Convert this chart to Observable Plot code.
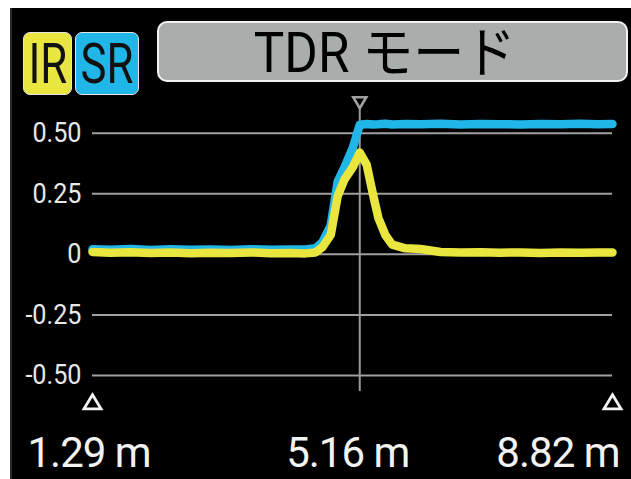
<!DOCTYPE html>
<html><head><meta charset="utf-8">
<script src="https://cdn.jsdelivr.net/npm/d3@7"></script>
<script src="https://cdn.jsdelivr.net/npm/@observablehq/plot@0.6"></script>
<style>
html,body{margin:0;padding:0;background:#fff;width:631px;height:479px;overflow:hidden}
#panel{position:absolute;left:10px;top:8px;width:621px;height:471px;background:#000;box-shadow:inset 2px 0 0 #2a2a2a}
#panel svg{position:absolute;left:0;top:0}
.badge{position:absolute;top:24px;height:63px;border:1.5px solid #e4e4e4;border-radius:7px;box-sizing:border-box;display:flex;align-items:center;justify-content:center;font-family:Roboto,sans-serif;font-size:56px;line-height:1;color:#111;overflow:hidden}
.badge span{display:inline-block;transform:scaleX(0.78)}
#title{position:absolute;left:147px;top:13px;width:471px;height:61px;background:#a9aeac;border:2.5px solid #f2f2f2;border-radius:10px;box-sizing:border-box;display:flex;align-items:center;justify-content:center;font-family:Roboto,"Noto Sans CJK JP",sans-serif;font-size:55px;line-height:1;color:#000}
#title span{display:inline-block;transform:translate(-8px,2px) scaleX(0.93);white-space:pre}
</style>
</head><body>
<div id="panel">
  <div class="badge" id="irBadge" style="left:13px;width:49px"><span></span></div>
  <div class="badge" id="srBadge" style="left:65px;width:64px"><span></span></div>
  <div id="title"><span></span></div>
</div>
<script>
// ---- data ----
const titleText = "TDR モード";
const seriesNames = ["IR", "SR"];
const seriesColors = ["#e8e63f", "#20b6e8"];
const distance = [1.29, 1.55, 1.84, 2.13, 2.42, 2.71, 3.00, 3.29, 3.58, 3.87, 4.16, 4.37, 4.52, 4.62, 4.74, 4.84, 4.94, 5.06, 5.16, 5.26, 5.35, 5.43, 5.53, 5.63, 5.82, 6.04, 6.33, 6.62, 6.91, 7.20, 7.49, 7.78, 8.07, 8.36, 8.60, 8.82];
const irValues = [0.010, 0.007, 0.009, 0.006, 0.008, 0.005, 0.007, 0.006, 0.008, 0.005, 0.006, 0.004, 0.008, 0.030, 0.080, 0.240, 0.310, 0.360, 0.420, 0.370, 0.250, 0.150, 0.080, 0.040, 0.025, 0.022, 0.010, 0.008, 0.009, 0.007, 0.008, 0.006, 0.008, 0.007, 0.008, 0.008];
const srValues = [0.021, 0.019, 0.022, 0.018, 0.021, 0.019, 0.020, 0.018, 0.021, 0.019, 0.020, 0.020, 0.025, 0.050, 0.120, 0.300, 0.360, 0.440, 0.535, 0.538, 0.536, 0.537, 0.539, 0.536, 0.538, 0.537, 0.539, 0.536, 0.538, 0.537, 0.536, 0.538, 0.537, 0.539, 0.537, 0.538];
const yTicks = [0.5, 0.25, 0, -0.25, -0.5];
const markerPos = [5.16];
const cursorPos = [1.29, 8.82];
const xLabels = ["1.29 m", "5.16 m", "8.82 m"];

// ---- header ----
document.querySelector("#irBadge").style.background = seriesColors[0];
document.querySelector("#srBadge").style.background = seriesColors[1];
document.querySelector("#irBadge span").textContent = seriesNames[0];
document.querySelector("#srBadge span").textContent = seriesNames[1];
document.querySelector("#title span").textContent = titleText;

const irRows = distance.map((d, i) => ({d, v: irValues[i]}));
const srRows = distance.map((d, i) => ({d, v: srValues[i]}));

function tri(dir, w, h) {
  return {draw(ctx) {
    ctx.moveTo(0, -dir * h * 0.55);
    ctx.lineTo(w / 2, dir * h * 0.45);
    ctx.lineTo(-w / 2, dir * h * 0.45);
    ctx.closePath();
  }};
}

const labelStyle = {frameAnchor: "bottom", lineAnchor: "bottom", dy: 91.5, fontSize: 42, fill: "#f2f2f2"};

const svg = Plot.plot({
  width: 621, height: 471,
  marginLeft: 82, marginRight: 19, marginTop: 124.7, marginBottom: 104,
  style: {background: "transparent", color: "#e8e8e8", fontFamily: "Roboto, sans-serif", fontSize: "28px", overflow: "visible"},
  x: {domain: [1.29, 8.82], axis: null},
  y: {domain: [-0.5, 0.5], axis: null},
  marks: [
    Plot.gridY(yTicks, {stroke: "#a0a0a0", strokeOpacity: 1, strokeWidth: 2}),
    Plot.axisY(yTicks, {tickSize: 0, tickPadding: 11, label: null, fill: "#e8e8e8", fontSize: 28,
      tickFormat: d => d === 0 ? "0" : d.toFixed(2)}),
    Plot.ruleX(markerPos, {stroke: "#9a9a9a", strokeWidth: 2, insetTop: -25, insetBottom: -16}),
    Plot.lineY(srRows, {x: "d", y: "v", stroke: seriesColors[1], strokeWidth: 8.5, strokeLinecap: "round", strokeLinejoin: "round"}),
    Plot.lineY(irRows, {x: "d", y: "v", stroke: seriesColors[0], strokeWidth: 8.5, strokeLinecap: "round", strokeLinejoin: "round"}),
    Plot.dot(markerPos, {x: d => d, frameAnchor: "top", dy: -31, symbol: tri(-1, 13, 11), stroke: "#a0a0a0", fill: "#000", strokeWidth: 2.6}),
    Plot.dot(cursorPos, {x: d => d, frameAnchor: "bottom", dy: 27, symbol: tri(1, 17, 14), stroke: "#f4f4f4", fill: "#000", strokeWidth: 2.8}),
    Plot.text([0], {...labelStyle, x: () => cursorPos[0], text: () => xLabels[0], textAnchor: "start", dx: -65}),
    Plot.text([0], {...labelStyle, x: () => markerPos[0], text: () => xLabels[1], textAnchor: "middle", dx: -12}),
    Plot.text([0], {...labelStyle, x: () => cursorPos[1], text: () => xLabels[2], textAnchor: "end", dx: 7})
  ]
});
document.querySelector("#panel").prepend(svg);
// condense tick-label glyphs to mimic the narrow instrument font
svg.querySelectorAll('g[aria-label="y-axis tick label"] text').forEach(t => {
  const len = t.getComputedTextLength();
  t.setAttribute("textLength", (len * 0.9).toFixed(1));
  t.setAttribute("lengthAdjust", "spacingAndGlyphs");
});
svg.querySelectorAll('g[aria-label="text"] text').forEach(t => {
  t.style.letterSpacing = "-1px";
});
</script>
</body></html>
